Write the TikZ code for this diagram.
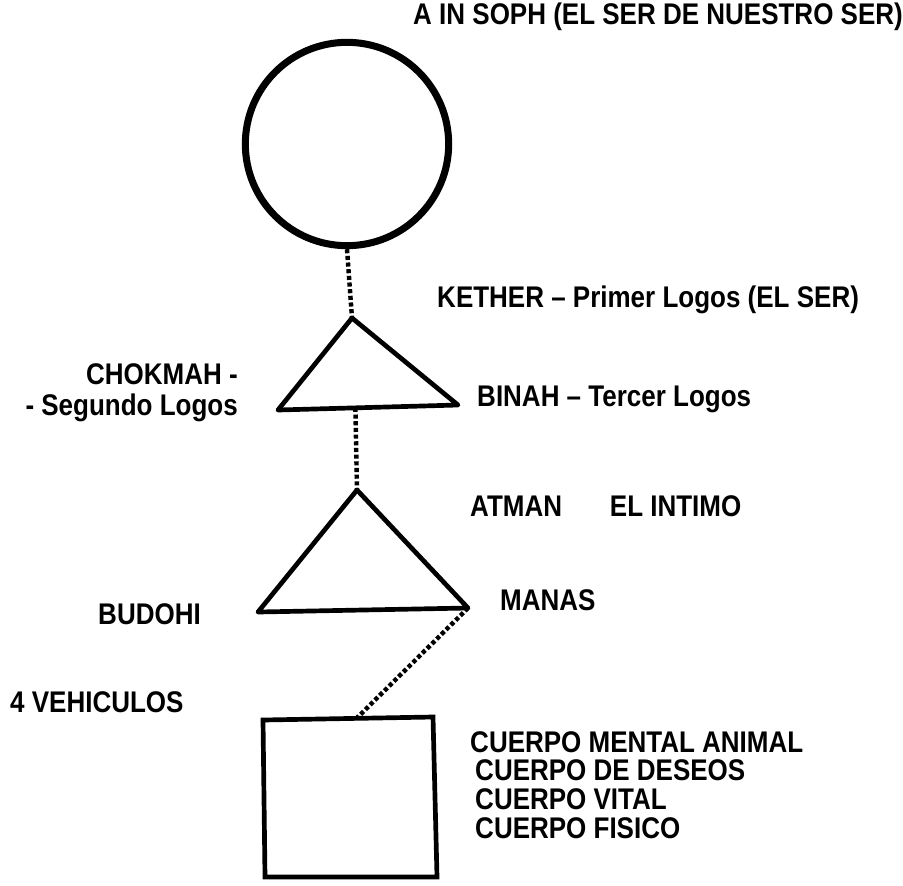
\documentclass[tikz,border=0pt]{standalone}
\usepackage{fontspec}
\setmainfont{Liberation Sans}[FakeStretch=0.87]
\usepackage{tikz}
\usetikzlibrary{calc}

\begin{document}
\begin{tikzpicture}[x=0.03cm,y=-0.03cm,
  lbl/.style={anchor=west,inner sep=0pt,font=\fontsize{25.5}{29}\selectfont\bfseries},
  link/.style={line width=3.8pt,dash pattern=on 3.5pt off 2.2pt}]
\useasboundingbox (0,0) rectangle (903,885);
\node[circle,draw,line width=6pt,minimum size=6.1cm,inner sep=0pt] (ainsoph) at (347,144) {};
\coordinate (kether) at (352,318);
\coordinate (chokmah) at (278,410);
\coordinate (binah) at (458,405);
\coordinate (atman) at (357,490);
\coordinate (budohi) at (258,612);
\coordinate (manas) at (468,608);
\coordinate (vehtl) at (263,720);
\coordinate (vehtr) at (433,717);
\coordinate (vehbr) at (437,877);
\coordinate (vehbl) at (265,877);
\draw[line width=4pt,line join=round] (kether) -- (binah) -- (chokmah) -- cycle;
\draw[line width=4pt,line join=round] (atman) -- (manas) -- (budohi) -- cycle;
\draw[line width=4pt,line join=miter] (vehtl) -- (vehtr) -- (vehbr) -- (vehbl) -- cycle;
\coordinate (topmid) at ($(chokmah)!0.43!(binah)$);
\coordinate (boxtop) at ($(vehtl)!0.55!(vehtr)$);
\draw[link] (ainsoph.south) -- (kether);
\draw[link] (topmid) -- (atman);
\draw[link] (manas) -- (boxtop);
% textos
\node[lbl] (tainsoph) at (413,17) {A IN SOPH (EL SER DE NUESTRO SER)};
\node[lbl] (tkether) at (437,300) {KETHER -- Primer Logos (EL SER)};
\node[lbl,anchor=east] (tchokmah) at (238,374) {CHOKMAH -};
\node[lbl,anchor=east] (tsegundo) at (238,408) {- Segundo Logos};
\node[lbl] (tbinah) at (477,399) {BINAH -- Tercer Logos};
\node[lbl] (tatman) at (470,506) {ATMAN\hspace{1.6em}EL INTIMO};
\node[lbl] (tbudohi) at (98,614) {BUDOHI};
\node[lbl] (tmanas) at (500,600) {MANAS};
\node[lbl] (tveh) at (10,702) {4 VEHICULOS};
\node[lbl] (tmental) at (470,742) {CUERPO MENTAL ANIMAL};
\node[lbl] (tdeseos) at (475,770) {CUERPO DE DESEOS};
\node[lbl] (tvital) at (475,799) {CUERPO VITAL};
\node[lbl] (tfisico) at (475,828) {CUERPO FISICO};
\end{tikzpicture}
\end{document}
